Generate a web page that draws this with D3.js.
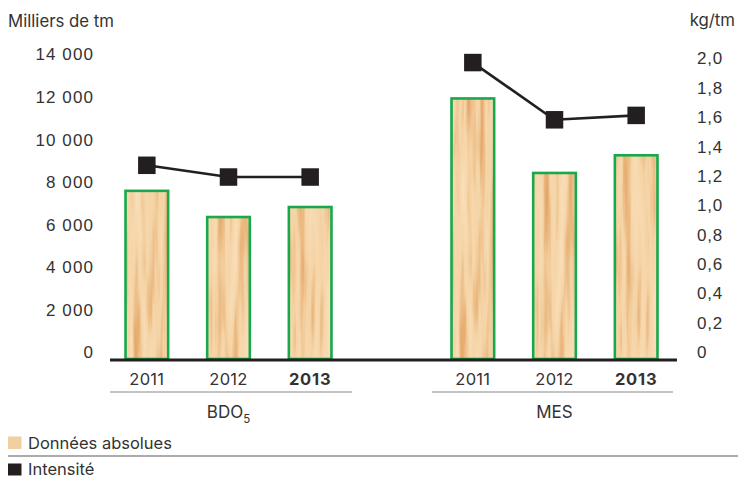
<!DOCTYPE html>
<html lang="fr">
<head>
<meta charset="utf-8">
<script src="https://cdn.jsdelivr.net/npm/d3@7"></script>
<style>
  html, body { margin: 0; padding: 0; background: #fff; }
  svg { display: block; font-family: Inter, "Open Sans", sans-serif; }
  text { fill: #333; }
</style>
</head>
<body>
<svg id="chart" width="738" height="480"></svg>
<script>
// Effluents : données absolues (milliers de tm) et intensité (kg/tm)
const groups = ["BDO5", "MES"];
const years = ["2011", "2012", "2013"];
const boldYear = "2013";
const absolute = {
  BDO5: [7900, 6670, 7140],
  MES: [12240, 8740, 9570]
};
const intensity = {
  BDO5: [1.32, 1.24, 1.24],
  MES: [2.02, 1.63, 1.66]
};
const leftTicks = [0, 2000, 4000, 6000, 8000, 10000, 12000, 14000];
const rightTicks = [0, 0.2, 0.4, 0.6, 0.8, 1.0, 1.2, 1.4, 1.6, 1.8, 2.0];
const leftTitle = "Milliers de tm";
const rightTitle = "kg/tm";
const legendItems = ["Données absolues", "Intensité"];

const svg = d3.select("#chart");
const ink = "#231f20";
const green = "#17a94b";

const fr = d3.formatLocale({ decimal: ",", thousands: " ", grouping: [3], currency: ["", ""] });
const fmtLeft = fr.format(",d");
const fmtRight = d => d === 0 ? "0" : fr.format(".1f")(d);

const baseY = 359;
const yL = d3.scaleLinear().domain([0, 14000]).range([baseY, 61]);
const yR = d3.scaleLinear().domain([0, 2]).range([baseY, 65.5]);

const x0 = d3.scaleBand().domain(groups).range([106, 677]).paddingInner(0.2485).paddingOuter(0);
const x1 = d3.scaleBand().domain(years).range([0, x0.bandwidth()]).paddingInner(0.478).paddingOuter(0.239);

// Wood-grain texture for the bars
const defs = svg.append("defs");
const wood = defs.append("filter").attr("id", "wood")
  .attr("x", 0).attr("y", 0).attr("width", 1).attr("height", 1)
  .attr("color-interpolation-filters", "sRGB");
wood.append("feTurbulence").attr("type", "fractalNoise")
  .attr("baseFrequency", "0.11 0.006").attr("numOctaves", 3).attr("seed", 7).attr("result", "noise");
wood.append("feColorMatrix").attr("type", "matrix")
  .attr("values", "1 0 0 0 0  1 0 0 0 0  1 0 0 0 0  0 0 0 0 1");
const ct = wood.append("feComponentTransfer");
ct.append("feFuncR").attr("type", "table").attr("tableValues", "0.86 0.90 0.96 0.98 0.99");
ct.append("feFuncG").attr("type", "table").attr("tableValues", "0.56 0.67 0.83 0.87 0.89");
ct.append("feFuncB").attr("type", "table").attr("tableValues", "0.28 0.43 0.65 0.72 0.76");

// Left axis
const axL = svg.append("g").attr("transform", "translate(94,0)")
  .call(d3.axisLeft(yL).tickValues(leftTicks).tickFormat(fmtLeft).tickSize(0).tickPadding(0));
axL.select(".domain").remove();
axL.selectAll("text").attr("y", -6.5).attr("font-size", 17).attr("letter-spacing", 1.1)
  .attr("font-family", null).attr("fill", "#333");

// Right axis
const axR = svg.append("g").attr("transform", "translate(697,0)")
  .call(d3.axisRight(yR).tickValues(rightTicks).tickFormat(fmtRight).tickSize(0).tickPadding(0));
axR.select(".domain").remove();
axR.selectAll("text").attr("y", -7).attr("font-size", 17).attr("letter-spacing", 0.8)
  .attr("font-family", null).attr("fill", "#333");

svg.append("text").attr("x", 8).attr("y", 21).attr("dy", "0.35em")
  .attr("font-size", 16.8).text(leftTitle);
svg.append("text").attr("x", 735).attr("y", 20).attr("dy", "0.35em")
  .attr("text-anchor", "end").attr("font-size", 16.8).text(rightTitle);

// Bars
const gGroups = svg.append("g").selectAll("g").data(groups).join("g")
  .attr("transform", g => `translate(${x0(g)},0)`);

const barData = g => years.map((yr, i) => ({ g, yr, v: absolute[g][i], r: intensity[g][i] }));

gGroups.selectAll("rect.fill").data(barData).join("rect").attr("class", "fill")
  .attr("x", d => x1(d.yr)).attr("width", x1.bandwidth())
  .attr("y", d => yL(d.v)).attr("height", d => baseY - yL(d.v))
  .attr("fill", "#f3d3a6").attr("filter", "url(#wood)");

gGroups.selectAll("rect.edge").data(barData).join("rect").attr("class", "edge")
  .attr("x", d => x1(d.yr)).attr("width", x1.bandwidth())
  .attr("y", d => yL(d.v)).attr("height", d => baseY - yL(d.v))
  .attr("fill", "none").attr("stroke", green).attr("stroke-width", 2.6);

// Baseline
svg.append("line").attr("x1", 110).attr("x2", 677).attr("y1", baseY + 1).attr("y2", baseY + 1)
  .attr("stroke", ink).attr("stroke-width", 3);

// Intensity lines and markers
const line = d3.line().x(d => x1(d.yr) + x1.bandwidth() / 2).y(d => yR(d.r));
gGroups.append("path").attr("d", g => line(barData(g)))
  .attr("fill", "none").attr("stroke", ink).attr("stroke-width", 2.6);
const ms = 17.5;
gGroups.selectAll("rect.mark").data(barData).join("rect").attr("class", "mark")
  .attr("x", d => x1(d.yr) + x1.bandwidth() / 2 - ms / 2).attr("y", d => yR(d.r) - ms / 2)
  .attr("width", ms).attr("height", ms).attr("fill", ink);

// Category labels
gGroups.selectAll("text.yr").data(barData).join("text").attr("class", "yr")
  .attr("x", d => x1(d.yr) + x1.bandwidth() / 2).attr("y", 379).attr("dy", "0.35em")
  .attr("text-anchor", "middle").attr("font-size", 16.5)
  .attr("font-weight", d => d.yr === boldYear ? 700 : 400)
  .attr("letter-spacing", d => d.yr === boldYear ? 0.8 : 0.3)
  .attr("fill", d => d.yr === boldYear ? "#231f20" : "#333")
  .text(d => d.yr);

gGroups.append("line")
  .attr("x1", (g, i) => i === 0 ? 4 : 0).attr("x2", (g, i) => i === 0 ? x0.bandwidth() + 1 : x0.bandwidth() - 4)
  .attr("y1", 392).attr("y2", 392).attr("stroke", "#8a8a8a").attr("stroke-width", 1.2);

const gl = gGroups.append("text").attr("x", x0.bandwidth() / 2).attr("y", 412).attr("dy", "0.35em")
  .attr("text-anchor", "middle").attr("font-size", 17);
gl.each(function (g) {
  const t = d3.select(this);
  const m = g.match(/^([A-Z]+)(\d*)$/);
  t.append("tspan").text(m[1]);
  if (m[2]) t.append("tspan").attr("font-size", 11.5).attr("dy", 5).text(m[2]);
});

// Legend
const lg = svg.append("g");
lg.append("rect").attr("x", 8).attr("y", 436.5).attr("width", 13.5).attr("height", 12.5).attr("fill", "#f2cfa1");
lg.append("text").attr("x", 28).attr("y", 443).attr("dy", "0.35em").attr("font-size", 16.5).text(legendItems[0]);
lg.append("line").attr("x1", 8).attr("x2", 738).attr("y1", 456).attr("y2", 456)
  .attr("stroke", "#8f8f8f").attr("stroke-width", 1.4);
lg.append("rect").attr("x", 8).attr("y", 463.5).attr("width", 13.5).attr("height", 12).attr("fill", ink);
lg.append("text").attr("x", 28).attr("y", 469.5).attr("dy", "0.35em").attr("font-size", 16.5).text(legendItems[1]);
</script>
</body>
</html>
